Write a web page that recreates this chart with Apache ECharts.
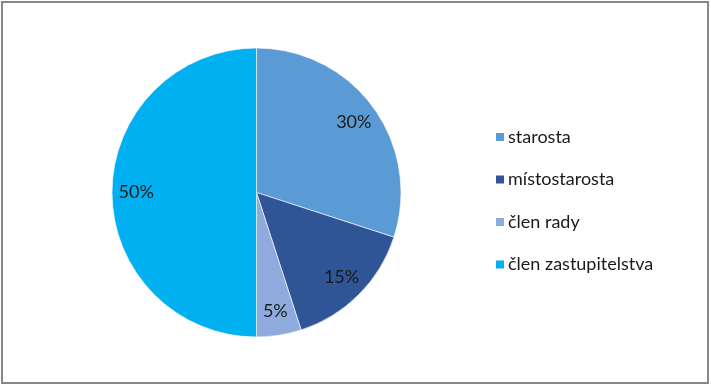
<!DOCTYPE html>
<html><head><meta charset="utf-8">
<script src="https://cdn.jsdelivr.net/npm/echarts@6/dist/echarts.min.js"></script>
<style>html,body{margin:0;padding:0;background:#fff}#c{width:711px;height:387px}</style>
</head><body><div id="c"></div>
<script>
const categories = ['starosta', 'místostarosta', 'člen rady', 'člen zastupitelstva'];
const values = [30, 15, 5, 50];
const colors = ['#5B9BD5', '#2F5597', '#8FAADC', '#00B0F0'];

const data = categories.map((n, i) => ({name: n, value: values[i], itemStyle: {color: colors[i]}}));
const chart = echarts.init(document.getElementById('c'), null, {renderer: 'canvas'});
const font = 'Lato';
chart.setOption({
  animation: false,
  graphic: [{type: 'rect', shape: {x: 2, y: 2, width: 706, height: 381}, style: {fill: 'none', stroke: '#878787', lineWidth: 2}, silent: true}],
  legend: {
    orient: 'vertical', left: 489, top: 121,
    itemWidth: 10, itemHeight: 10, itemGap: 20.5,
    icon: 'rect',
    data: categories,
    textStyle: {fontFamily: font, fontSize: 18, lineHeight: 22, color: '#1a1a1a', padding: [0, 0, 0, -2]}
  },
  series: [{
    type: 'pie', center: [256.5, 192.5], radius: [0, 144.5],
    startAngle: 90, clockwise: true,
    data: data, label: {show: false}, labelLine: {show: false},
    itemStyle: {borderColor: '#ffffff', borderWidth: 0.6},
    emphasis: {disabled: true}
  }, {
    type: 'pie', center: [256.5, 192.5], radius: [90, 144.5],
    startAngle: 90, clockwise: true, silent: true,
    data: categories.map((n, i) => ({name: n, value: values[i]})),
    itemStyle: {color: 'rgba(0,0,0,0)'},
    label: {show: true, position: 'inside', formatter: p => p.value + '%', fontFamily: font, fontSize: 18, color: '#1a1a1a'},
    labelLine: {show: false},
    emphasis: {disabled: true}
  }]
});
</script></body></html>
